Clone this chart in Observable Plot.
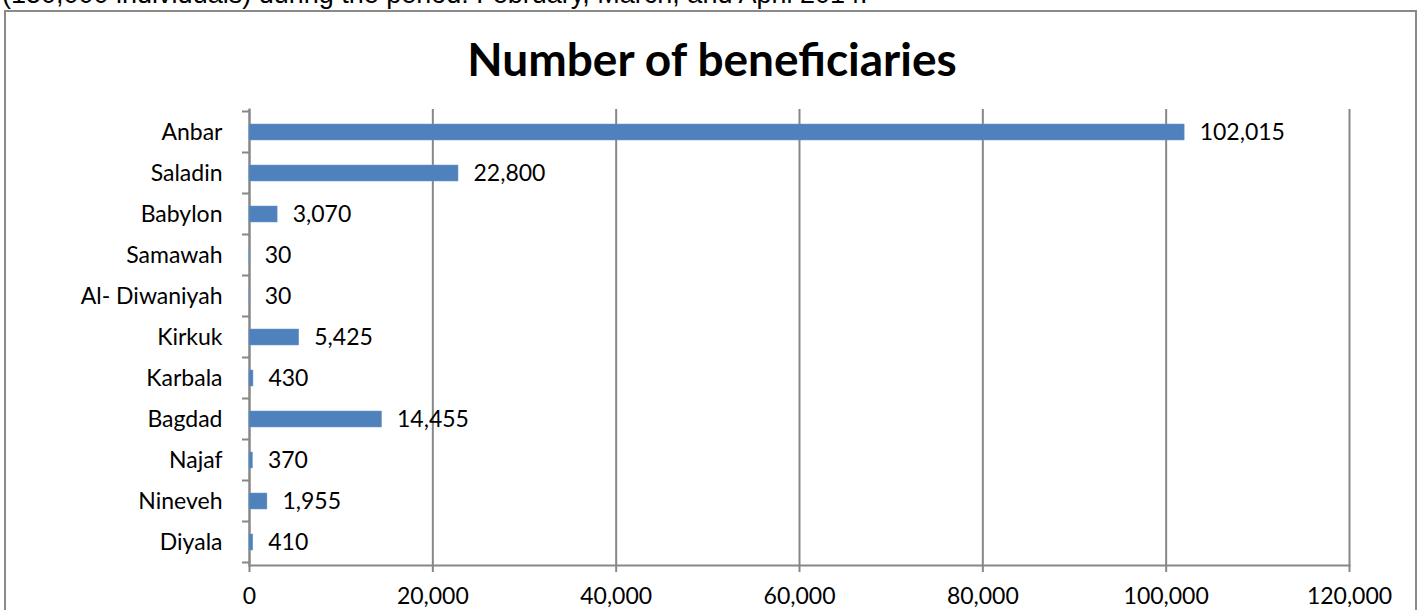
<!DOCTYPE html>
<html>
<head>
<meta charset="utf-8">
<script src="https://cdn.jsdelivr.net/npm/d3@7"></script>
<script src="https://cdn.jsdelivr.net/npm/@observablehq/plot@0.6"></script>
<style>
  html, body { margin: 0; padding: 0; background: #fff; width: 1424px; height: 610px; overflow: hidden; }
  #wrap { position: relative; width: 1424px; height: 610px; }
  #intro { position: absolute; left: 2px; top: -19px; font: 27px/27px "Liberation Sans", Arial, sans-serif; color: #000; white-space: nowrap; }
  #box { position: absolute; left: 4px; top: 10px; width: 1413px; height: 700px; border: 2px solid #8a8a8a; box-sizing: border-box; }
  #title { position: absolute; left: 0; top: 36px; width: 1424px; text-align: center; font: bold 46px/46px Lato, "Open Sans", sans-serif; color: #000; }
  #chart { position: absolute; left: 0; top: 0; }
  #chart svg { background: transparent; }
  #chart g[aria-label="x-axis tick"] path { stroke: #878787; stroke-width: 2; }
</style>
</head>
<body>
<div id="wrap">
  <div id="intro">(150,000 individuals) during the period: February, March, and April 2014.</div>
  <div id="box"></div>
  <div id="chart"></div>
  <div id="title">Number of beneficiaries</div>
</div>
<script>
const categories = ["Anbar", "Saladin", "Babylon", "Samawah", "Al- Diwaniyah", "Kirkuk", "Karbala", "Bagdad", "Najaf", "Nineveh", "Diyala"];
const values = [102015, 22800, 3070, 30, 30, 5425, 430, 14455, 370, 1955, 410];
const xTicks = [0, 20000, 40000, 60000, 80000, 100000, 120000];

const data = categories.map((c, i) => ({cat: c, value: values[i]}));
const fmt = d3.format(",");
const gray = "#878787";

const plot = Plot.plot({
  width: 1424,
  height: 610,
  marginLeft: 249,
  marginRight: 75,
  marginTop: 109,
  marginBottom: 45,
  style: {fontFamily: "Lato, 'Open Sans', sans-serif", fontSize: "23px", color: "#000", background: "transparent"},
  x: {domain: [0, 120000]},
  y: {domain: categories, paddingInner: 0.61, paddingOuter: 0.305},
  marks: [
    Plot.gridX(xTicks, {stroke: gray, strokeOpacity: 1, strokeWidth: 2}),
    Plot.frame({anchor: "bottom", stroke: gray, strokeWidth: 2}),
    Plot.frame({anchor: "left", stroke: gray, strokeWidth: 2}),
    Plot.barX(data, {x: "value", y: "cat", fill: "#4F81BD", stroke: "#6d98cc", strokeWidth: 0.5}),
    Plot.text(data, {x: "value", y: "cat", text: d => fmt(d.value), dx: 15, textAnchor: "start", fontSize: 23, fill: "#000"}),
    Plot.axisX({ticks: xTicks, tickFormat: fmt, tickSize: 7, tickPadding: 15, fontSize: 23, label: null}),
    Plot.axisY({tickSize: 0, tickPadding: 27, fontSize: 23, label: null})
  ]
});
document.getElementById("chart").appendChild(plot);

// category boundary tick marks on the y axis, derived from the band scale
const ys = plot.scale("y");
const xs = plot.scale("x");
const x0 = xs.apply(0);
const gap = (ys.step - ys.bandwidth) / 2;
const bounds = categories.map(c => ys.apply(c) - gap);
bounds.push(ys.apply(categories[categories.length - 1]) + ys.bandwidth + gap);
d3.select(plot).append("g")
  .selectAll("line").data(bounds).join("line")
  .attr("x1", x0 - 7).attr("x2", x0)
  .attr("y1", d => d).attr("y2", d => d)
  .attr("stroke", gray).attr("stroke-width", 2);
</script>
</body>
</html>
